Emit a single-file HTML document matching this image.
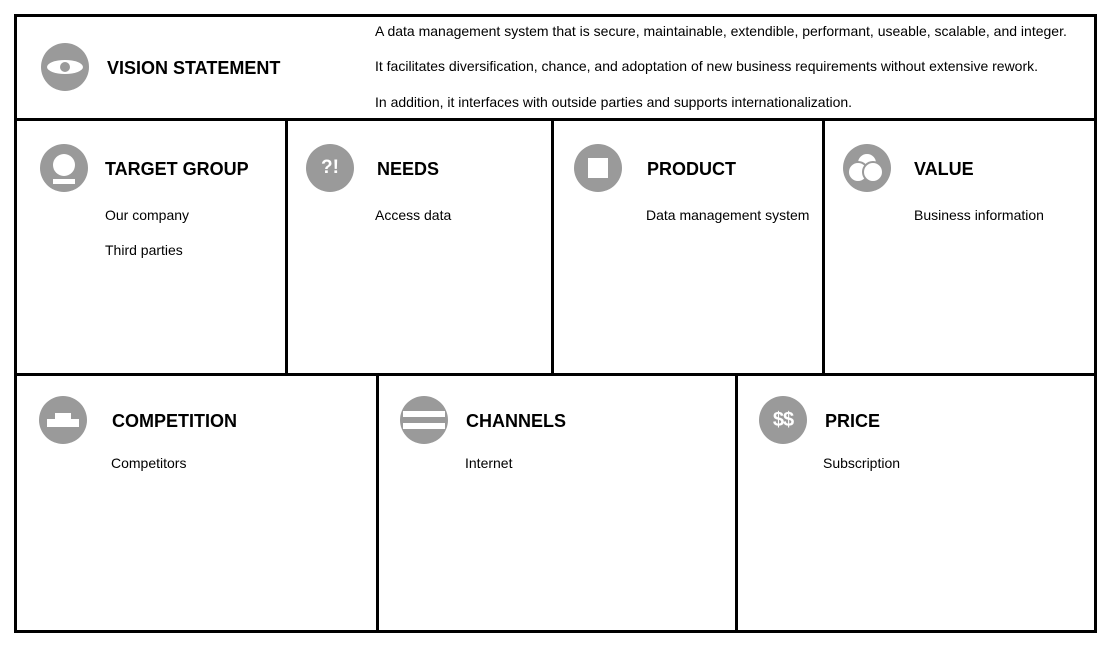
<!DOCTYPE html>
<html><head><style>
body{margin:0;width:1110px;height:646px;background:#fff;position:relative;font-family:"Liberation Sans",Arial,sans-serif;overflow:hidden}
.l{position:absolute;background:#000}
.c{position:absolute;width:48px;height:48px;border-radius:50%;background:#9a9a9a;overflow:hidden}
.t{position:absolute;font-weight:bold;font-size:18px;color:#000;line-height:20px}
.b{position:absolute;font-size:14px;color:#000;line-height:16px;white-space:nowrap}
.w{position:absolute;background:#fff}
</style></head><body>
<div class="l" style="left:14px;top:14px;width:1083px;height:3px"></div>
<div class="l" style="left:14px;top:630px;width:1083px;height:3px"></div>
<div class="l" style="left:14px;top:14px;width:3px;height:619px"></div>
<div class="l" style="left:1094px;top:14px;width:3px;height:619px"></div>
<div class="l" style="left:14px;top:118px;width:1083px;height:3px"></div>
<div class="l" style="left:14px;top:373px;width:1083px;height:3px"></div>
<div class="l" style="left:285px;top:118px;width:3px;height:258px"></div>
<div class="l" style="left:551px;top:118px;width:3px;height:258px"></div>
<div class="l" style="left:822px;top:118px;width:3px;height:258px"></div>
<div class="l" style="left:376px;top:373px;width:3px;height:260px"></div>
<div class="l" style="left:735px;top:373px;width:3px;height:260px"></div>

<div class="c" style="left:41px;top:43px"><div class="w" style="left:6px;top:17px;width:36px;height:14px;border-radius:50%"></div><div style="position:absolute;left:19px;top:19px;width:10px;height:10px;border-radius:50%;background:#9a9a9a"></div></div>
<div class="t" style="left:107px;top:58px">VISION STATEMENT</div>
<div class="b" style="left:375px;top:23px">A data management system that is secure, maintainable, extendible, performant, useable, scalable, and integer.</div>
<div class="b" style="left:375px;top:58px">It facilitates diversification, chance, and adoptation of new business requirements without extensive rework.</div>
<div class="b" style="left:375px;top:94px">In addition, it interfaces with outside parties and supports internationalization.</div>

<div class="c" style="left:40px;top:144px"><div class="w" style="left:13px;top:10px;width:22px;height:22px;border-radius:50%"></div><div class="w" style="left:13px;top:35px;width:22px;height:5px"></div></div>
<div class="t" style="left:105px;top:159px">TARGET GROUP</div>
<div class="b" style="left:105px;top:207px">Our company</div>
<div class="b" style="left:105px;top:242px">Third parties</div>

<div class="c" style="left:306px;top:144px;color:#fff;font-weight:bold;font-size:19px;text-align:center;line-height:48px">?!</div>
<div class="t" style="left:377px;top:159px">NEEDS</div>
<div class="b" style="left:375px;top:207px">Access data</div>

<div class="c" style="left:574px;top:144px"><div class="w" style="left:14px;top:14px;width:20px;height:20px"></div></div>
<div class="t" style="left:647px;top:159px">PRODUCT</div>
<div class="b" style="left:646px;top:207px">Data management system</div>

<div class="c" style="left:843px;top:144px"><div style="position:absolute;left:13px;top:8px;width:18px;height:18px;border-radius:50%;background:#fff;border:2px solid #9a9a9a"></div><div style="position:absolute;left:4px;top:17px;width:18px;height:18px;border-radius:50%;background:#fff;border:2px solid #9a9a9a"></div><div style="position:absolute;left:19px;top:17px;width:18px;height:18px;border-radius:50%;background:#fff;border:2px solid #9a9a9a"></div></div>
<div class="t" style="left:914px;top:159px">VALUE</div>
<div class="b" style="left:914px;top:207px">Business information</div>

<div class="c" style="left:39px;top:396px"><div class="w" style="left:16px;top:17px;width:16px;height:6px"></div><div class="w" style="left:8px;top:23px;width:32px;height:8px"></div></div>
<div class="t" style="left:112px;top:411px">COMPETITION</div>
<div class="b" style="left:111px;top:455px">Competitors</div>

<div class="c" style="left:400px;top:396px"><div class="w" style="left:3px;top:15px;width:42px;height:6px"></div><div class="w" style="left:3px;top:27px;width:42px;height:6px"></div></div>
<div class="t" style="left:466px;top:411px">CHANNELS</div>
<div class="b" style="left:465px;top:455px">Internet</div>

<div class="c" style="left:759px;top:396px;color:#fff;font-weight:bold;font-size:20px;text-align:center;line-height:48px;letter-spacing:-1px">$$</div>
<div class="t" style="left:825px;top:411px">PRICE</div>
<div class="b" style="left:823px;top:455px">Subscription</div>
</body></html>
